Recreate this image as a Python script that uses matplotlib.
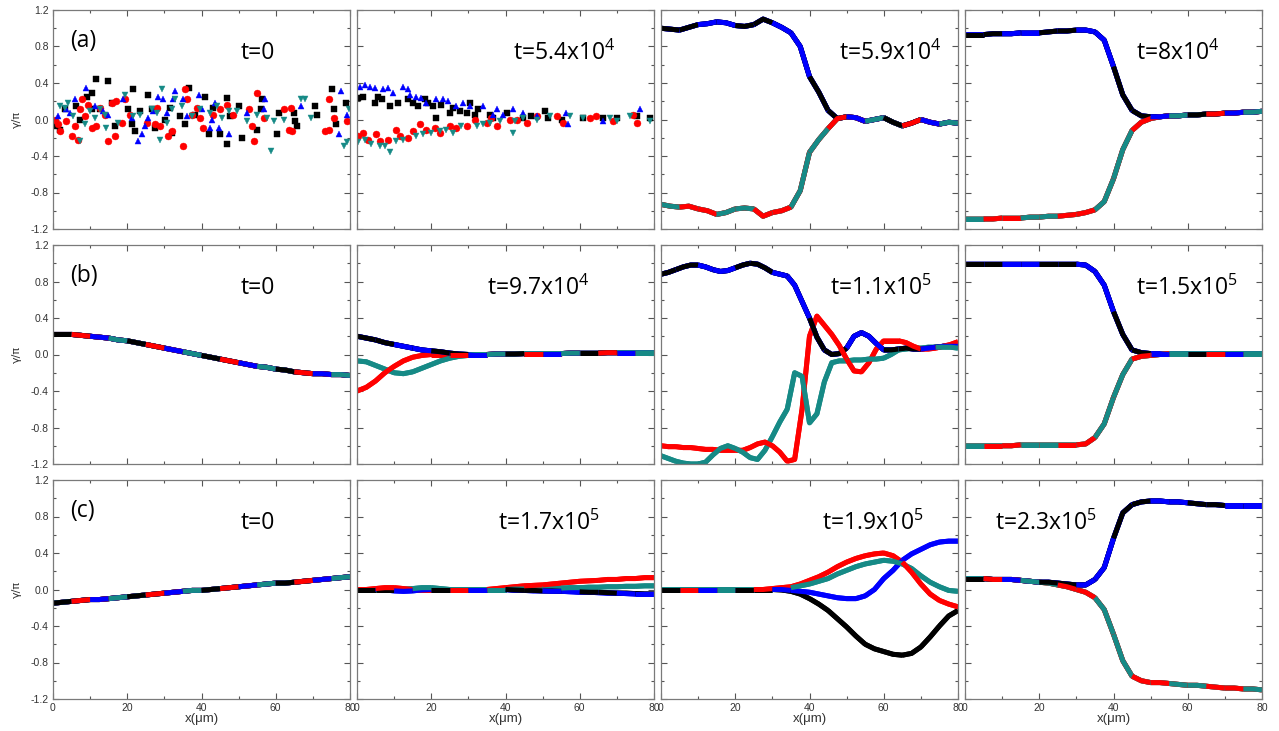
import numpy as np
import matplotlib
matplotlib.use("Agg")
import matplotlib.pyplot as plt
from matplotlib.ticker import MultipleLocator, FormatStrFormatter

plt.rcParams['mathtext.fontset'] = 'custom'
plt.rcParams['mathtext.rm'] = 'Open Sans'

BLACK, RED, BLUE, TEAL = '#000000', '#ff0000', '#0000ff', '#168a86'
COLORS = [BLACK, RED, BLUE, TEAL]
LW = 3.6

# ---------------- data ----------------
x25 = np.arange(0, 80.1, 2.5)   # 33 pts
x2 = np.arange(0, 80.1, 2.0)    # 41 pts

# (a) t=0 : scattered initial phases
a1_black_x = [0.9, 1.8, 3.2, 6.3, 7.2, 9.2, 10.4, 10.4, 11.7, 12.6, 14.9, 15.8, 16.7, 20.3, 21.2, 21.6, 22.1, 23.4,
              25.7, 26.6, 27.5, 30.2, 31.5, 32.0, 34.2, 35.6, 36.5, 38.3, 41.0, 41.9, 43.2, 45.0, 46.8, 46.8, 47.7,
              50.0, 50.9, 55.0, 55.9, 56.3, 60.4, 60.8, 64.9, 65.3, 65.8, 70.7, 71.2, 75.2, 75.7, 76.1, 78.8]
a1_black_y = [-0.07, -0.11, 0.11, 0.15, 0.0, 0.25, 0.29, 0.11, 0.44, 0.11, 0.42, 0.18, -0.07, 0.11, -0.05, 0.33,
              -0.13, 0.09, 0.27, 0.11, -0.09, 0.0, 0.13, -0.15, 0.04, -0.05, 0.35, 0.05, 0.25, -0.16, 0.13, -0.16,
              -0.27, 0.24, 0.04, 0.15, -0.2, -0.11, 0.11, 0.22, -0.16, 0.07, 0.07, -0.02, -0.07, 0.15, 0.05, 0.33,
              0.11, -0.05, 0.18]
a1_red_x = [0.5, 1.4, 1.8, 3.6, 5.0, 5.9, 6.8, 7.2, 7.7, 8.6, 9.5, 10.4, 11.7, 12.6, 14.0, 14.9, 15.8, 16.7, 17.1,
            18.5, 19.4, 20.7, 25.2, 27.5, 27.9, 28.8, 31.1, 32.0, 35.1, 35.6, 36.0, 37.4, 38.7, 39.6, 40.5, 43.2,
            45.0, 46.8, 48.6, 52.7, 53.6, 54.1, 55.0, 56.8, 62.2, 63.5, 64.0, 64.4, 73.4, 74.3, 74.3, 75.7, 79.3]
a1_red_y = [0.0, -0.05, -0.13, -0.02, -0.18, -0.07, -0.22, 0.11, 0.22, 0.04, 0.16, -0.09, -0.07, 0.13, 0.05, -0.24,
            0.18, -0.18, 0.2, -0.04, 0.22, 0.05, -0.04, -0.05, 0.13, -0.07, -0.18, -0.13, -0.29, 0.33, 0.22, 0.05,
            0.13, 0.02, -0.09, 0.05, 0.11, 0.16, 0.05, 0.11, -0.07, -0.24, 0.29, 0.02, 0.11, -0.11, 0.13, -0.13,
            -0.13, -0.11, 0.22, 0.02, -0.02]
a1_blue_x = [1.4, 3.6, 4.5, 5.9, 9.0, 11.3, 13.5, 14.9, 18.9, 21.2, 23.0, 23.9, 24.8, 25.7, 27.0, 28.4, 29.7, 30.6,
             32.4, 32.9, 35.1, 36.0, 39.2, 40.1, 42.3, 42.8, 43.7, 44.6, 47.3, 52.3, 56.8, 57.2, 66.7, 77.0, 77.5, 79.3]
a1_blue_y = [0.04, 0.11, 0.07, 0.22, 0.35, 0.15, 0.09, 0.05, 0.22, 0.02, -0.24, -0.16, -0.07, 0.02, 0.09, 0.25, 0.22,
             0.07, 0.22, 0.31, 0.22, 0.04, 0.27, 0.11, -0.09, 0.0, 0.18, -0.09, -0.16, 0.07, 0.11, 0.22, 0.15,
             -0.16, 0.31, 0.05]
a1_teal_x = [1.8, 3.2, 4.1, 5.4, 7.2, 8.6, 9.9, 11.3, 12.6, 14.0, 14.4, 17.6, 19.4, 21.6, 23.4, 26.6, 27.9, 28.8, 29.3,
             30.6, 32.0, 32.9, 34.7, 37.4, 39.6, 42.3, 44.1, 45.5, 47.3, 49.5, 52.3, 55.0, 57.7, 58.6, 59.5, 62.2,
             66.7, 68.0, 69.4, 78.4, 79.3, 79.7]
a1_teal_y = [0.15, 0.13, 0.18, 0.04, -0.24, -0.05, 0.09, 0.02, 0.11, 0.05, -0.09, -0.04, 0.27, 0.04, 0.05, 0.11, 0.07,
             -0.22, 0.33, -0.04, 0.11, 0.22, 0.15, 0.04, 0.11, 0.07, 0.15, 0.02, 0.09, 0.09, -0.02, 0.05, 0.02,
             -0.35, -0.02, 0.0, 0.22, 0.22, 0.02, -0.29, -0.25, 0.11]

# (a) t=5.4x10^4
a2_black_x = [0.3, 1.6, 4.8, 5.7, 6.6, 8.8, 11.1, 13.8, 15.1, 16.5, 18.2, 19.1, 20.5, 21.4, 22.7, 25.0, 25.9, 27.7,
              29.5, 30.4, 31.7, 32.6, 35.8, 36.7, 40.3, 44.8, 47.0, 50.6, 51.5, 55.1, 60.9, 66.3, 69.9, 75.3, 78.9]
a2_black_y = [0.24, 0.25, 0.18, 0.25, 0.22, 0.15, 0.18, 0.22, 0.18, 0.15, 0.22, 0.18, 0.15, 0.02, 0.16, 0.07, 0.13,
              0.09, 0.07, 0.18, 0.05, 0.11, 0.05, 0.02, 0.07, 0.02, 0.04, 0.09, 0.02, 0.0, 0.02, 0.02, 0.02, 0.04, 0.02]
a2_red_x = [0.3, 1.6, 3.0, 5.2, 6.1, 8.4, 10.6, 11.5, 13.8, 15.1, 16.9, 18.7, 20.9, 22.3, 25.0, 26.8, 29.5, 31.7,
            34.9, 36.2, 37.6, 41.2, 43.0, 45.7, 48.4, 53.8, 55.6, 62.7, 64.5, 69.0, 74.4, 75.3]
a2_red_y = [-0.18, -0.15, -0.22, -0.16, -0.24, -0.22, -0.11, -0.18, -0.2, -0.13, -0.05, -0.11, -0.09, -0.15, -0.07,
            -0.09, -0.07, 0.0, -0.04, 0.02, -0.07, 0.0, 0.0, -0.04, 0.04, 0.04, -0.04, 0.02, 0.04, -0.02, 0.05, -0.04]
a2_blue_x = [0.7, 2.1, 3.4, 4.8, 7.0, 8.4, 9.7, 12.4, 13.8, 14.2, 16.0, 17.3, 18.7, 21.4, 23.2, 24.5, 26.8, 28.6,
             30.4, 34.0, 36.7, 37.6, 39.4, 42.1, 44.8, 48.4, 56.4, 56.9, 66.3, 76.2]
a2_blue_y = [0.36, 0.38, 0.36, 0.35, 0.33, 0.35, 0.29, 0.36, 0.33, 0.27, 0.25, 0.24, 0.18, 0.22, 0.22, 0.2, 0.15,
             0.18, 0.15, 0.15, 0.05, 0.11, 0.05, 0.11, 0.07, 0.04, 0.07, -0.05, -0.02, 0.11]
a2_teal_x = [0.3, 2.1, 3.9, 6.1, 7.5, 8.8, 10.6, 12.4, 16.0, 17.8, 20.0, 22.3, 24.1, 25.9, 28.1, 32.2, 34.0, 35.8,
             38.5, 42.1, 42.5, 44.8, 48.4, 52.0, 57.3, 60.9, 68.1, 69.9, 73.5, 78.9]
a2_teal_y = [-0.25, -0.22, -0.27, -0.29, -0.29, -0.36, -0.24, -0.22, -0.18, -0.16, -0.15, -0.13, -0.11, -0.15, -0.07,
             -0.07, -0.05, -0.04, -0.02, -0.15, -0.02, 0.02, 0.0, 0.04, 0.04, 0.02, 0.02, -0.02, 0.04, -0.02]

# (a) t=5.9x10^4 (on x25)
a3_upper = [1.00, 0.99, 0.98, 1.01, 1.04, 1.05, 1.07, 1.06, 1.03, 1.02, 1.04, 1.10, 1.06, 1.01, 0.95, 0.80, 0.47,
            0.30, 0.10, 0.01, 0.03, 0.02, -0.02, 0.00, 0.02, -0.03, -0.07, -0.04, 0.00, -0.03, -0.05, -0.03, -0.04]
a3_lower = [-0.93, -0.95, -0.96, -0.95, -0.98, -1.00, -1.04, -1.02, -0.98, -0.97, -0.98, -1.06, -1.02, -1.00, -0.96,
            -0.78, -0.36, -0.22, -0.10, 0.01, 0.03, 0.02, -0.02, 0.00, 0.02, -0.03, -0.07, -0.04, 0.00, -0.03, -0.05,
            -0.03, -0.04]

# (a) t=8x10^4
a4_upper = [0.93, 0.93, 0.93, 0.94, 0.94, 0.94, 0.95, 0.95, 0.95, 0.96, 0.97, 0.97, 0.98, 0.98, 0.96, 0.87, 0.58,
            0.27, 0.10, 0.04, 0.03, 0.03, 0.04, 0.04, 0.05, 0.05, 0.06, 0.06, 0.07, 0.07, 0.08, 0.08, 0.09]
a4_lower = [-1.09, -1.09, -1.09, -1.09, -1.08, -1.08, -1.08, -1.07, -1.07, -1.06, -1.06, -1.05, -1.04, -1.02, -0.99,
            -0.90, -0.65, -0.33, -0.12, -0.03, 0.01, 0.03, 0.04, 0.04, 0.05, 0.05, 0.06, 0.06, 0.07, 0.07, 0.08,
            0.08, 0.09]

# (b) t=0
b1_all = [0.22, 0.22, 0.22, 0.21, 0.20, 0.19, 0.18, 0.16, 0.15, 0.13, 0.11, 0.09, 0.07, 0.05, 0.03, 0.01, -0.01,
          -0.03, -0.05, -0.07, -0.09, -0.11, -0.13, -0.14, -0.16, -0.17, -0.19, -0.20, -0.21, -0.21, -0.22, -0.22, -0.23]

# (b) t=9.7x10^4
b2_upper = [0.20, 0.18, 0.16, 0.13, 0.11, 0.09, 0.07, 0.05, 0.04, 0.03, 0.015, 0.005, 0.0, 0.0, 0.0, 0.005, 0.005,
            0.005, 0.01, 0.01, 0.01, 0.01, 0.01, 0.015, 0.015, 0.015, 0.015, 0.02, 0.02, 0.02, 0.02, 0.02, 0.02]
b2_red = [-0.40, -0.36, -0.29, -0.20, -0.13, -0.07, -0.03, -0.01, 0.0, 0.0, 0.0, 0.0, 0.0, 0.0, 0.0, 0.005, 0.005,
          0.005, 0.01, 0.01, 0.01, 0.01, 0.01, 0.015, 0.015, 0.015, 0.015, 0.02, 0.02, 0.02, 0.02, 0.02, 0.02]
b2_teal = [-0.07, -0.08, -0.12, -0.16, -0.20, -0.21, -0.19, -0.15, -0.11, -0.07, -0.04, -0.02, -0.01, 0.0, 0.0,
           0.005, 0.005, 0.005, 0.01, 0.01, 0.01, 0.01, 0.01, 0.015, 0.015, 0.015, 0.015, 0.02, 0.02, 0.02, 0.02,
           0.02, 0.02]

# (b) t=1.1x10^5 (on x2)
b3_upper = [0.88, 0.90, 0.93, 0.96, 0.98, 0.98, 0.96, 0.93, 0.91, 0.92, 0.95, 0.98, 1.00, 0.99, 0.95, 0.90, 0.88,
            0.86, 0.76, 0.58, 0.40, 0.19, 0.05, 0.00, 0.01, 0.07, 0.20, 0.24, 0.20, 0.12, 0.05, 0.05, 0.06, 0.07,
            0.06, 0.06, 0.07, 0.08, 0.09, 0.09, 0.09]
b3_red = [-1.00, -1.01, -1.01, -1.02, -1.02, -1.03, -1.04, -1.04, -1.05, -1.05, -1.05, -1.05, -1.02, -0.98, -0.96,
          -1.00, -1.07, -1.17, -1.15, -0.60, 0.20, 0.42, 0.32, 0.22, 0.10, -0.05, -0.18, -0.19, -0.09, 0.06, 0.15,
          0.15, 0.15, 0.13, 0.09, 0.06, 0.06, 0.07, 0.09, 0.11, 0.14]
b3_teal = [-1.11, -1.14, -1.17, -1.19, -1.20, -1.20, -1.18, -1.10, -1.03, -1.00, -1.03, -1.07, -1.13, -1.15, -1.05,
           -0.90, -0.74, -0.60, -0.20, -0.24, -0.75, -0.65, -0.30, -0.09, -0.07, -0.07, -0.06, -0.06, -0.05, -0.05,
           -0.04, 0.00, 0.05, 0.06, 0.07, 0.07, 0.08, 0.08, 0.08, 0.08, 0.07]

# (b) t=1.5x10^5
b4_upper = [0.99] * 13 + [0.98, 0.91, 0.76, 0.47, 0.22, 0.05, 0.02] + [0.01] * 13
b4_lower = [-1.0] * 6 + [-0.99] * 7 + [-0.98, -0.91, -0.76, -0.47, -0.22, -0.05, -0.02, -0.01, 0.0] + [0.01] * 11

# (c) t=0
c1_all = [-0.15, -0.14, -0.13, -0.12, -0.11, -0.11, -0.10, -0.09, -0.08, -0.07, -0.06, -0.05, -0.04, -0.03, -0.02,
          -0.01, -0.01, 0.00, 0.01, 0.02, 0.03, 0.04, 0.05, 0.06, 0.07, 0.07, 0.08, 0.09, 0.10, 0.11, 0.12, 0.13, 0.14]

# (c) t=1.7x10^5
c2_black = [0.0] * 17 + [-0.005, -0.01, -0.01, -0.015, -0.015, -0.02, -0.02, -0.025, -0.03, -0.03, -0.035, -0.04,
                         -0.04, -0.045, -0.05, -0.05]
c2_red = [0.0, 0.0, 0.01, 0.02, 0.02, 0.01, 0.0, 0.0, 0.0, 0.0, 0.0, 0.0, 0.0, 0.0, 0.0, 0.01, 0.02, 0.03, 0.04,
          0.045, 0.05, 0.06, 0.07, 0.08, 0.09, 0.095, 0.10, 0.11, 0.11, 0.12, 0.12, 0.13, 0.13]
c2_blue = [0.0, 0.0, 0.0, -0.005, -0.015, -0.02, -0.015, -0.005, 0.0, 0.0, 0.0, 0.0, 0.0, 0.0, 0.0, 0.0, 0.0, -0.01,
           -0.01, -0.015, -0.015, -0.02, -0.02, -0.025, -0.03, -0.03, -0.035, -0.04, -0.04, -0.045, -0.05, -0.05,
           -0.05]
c2_teal = [0.0, 0.0, 0.0, 0.0, 0.0, 0.0, 0.01, 0.02, 0.02, 0.01, 0.0, 0.0, 0.0, 0.0, 0.0, 0.0, 0.0, 0.005, 0.005,
           0.01, 0.01, 0.015, 0.015, 0.02, 0.02, 0.025, 0.025, 0.03, 0.03, 0.035, 0.035, 0.04, 0.04]

# (c) t=1.9x10^5
c3_black = [0.0] * 13 + [-0.005, -0.02, -0.05, -0.10, -0.16, -0.23, -0.32, -0.41, -0.51, -0.60, -0.65, -0.68,
                         -0.71, -0.72, -0.70, -0.63, -0.52, -0.40, -0.29, -0.23]
c3_red = [0.0] * 12 + [0.01, 0.02, 0.03, 0.06, 0.10, 0.14, 0.19, 0.25, 0.30, 0.34, 0.37, 0.39, 0.40, 0.37, 0.30,
                       0.19, 0.06, -0.05, -0.12, -0.16, -0.19]
c3_blue = [0.0] * 13 + [0.0, -0.01, -0.02, -0.03, -0.05, -0.07, -0.09, -0.10, -0.10, -0.07, 0.0, 0.12, 0.21, 0.32,
                        0.39, 0.44, 0.49, 0.52, 0.53, 0.53]
c3_teal = [0.0] * 13 + [0.01, 0.02, 0.04, 0.06, 0.09, 0.12, 0.17, 0.21, 0.25, 0.28, 0.30, 0.32, 0.31, 0.28, 0.23,
                        0.15, 0.08, 0.03, -0.01, -0.02]

# (c) t=2.3x10^5
c4_upper = [0.12, 0.12, 0.12, 0.11, 0.11, 0.11, 0.10, 0.09, 0.08, 0.08, 0.07, 0.06, 0.05, 0.05, 0.11, 0.24, 0.56,
            0.84, 0.93, 0.96, 0.97, 0.97, 0.96, 0.96, 0.95, 0.94, 0.93, 0.93, 0.92, 0.92, 0.92, 0.92, 0.92]
c4_lower = [0.12, 0.12, 0.12, 0.11, 0.11, 0.11, 0.10, 0.09, 0.08, 0.07, 0.05, 0.03, 0.0, -0.03, -0.09, -0.22, -0.49,
            -0.78, -0.95, -1.00, -1.02, -1.02, -1.03, -1.04, -1.05, -1.05, -1.06, -1.07, -1.08, -1.08, -1.09, -1.09,
            -1.10]

labels = [["t=0", "t=5.4x10$\\mathregular{^4}$", "t=5.9x10$\\mathregular{^4}$", "t=8x10$\\mathregular{^4}$"],
          ["t=0", "t=9.7x10$\\mathregular{^4}$", "t=1.1x10$\\mathregular{^5}$", "t=1.5x10$\\mathregular{^5}$"],
          ["t=0", "t=1.7x10$\\mathregular{^5}$", "t=1.9x10$\\mathregular{^5}$", "t=2.3x10$\\mathregular{^5}$"]]
label_x = [[50.5, 42, 48, 46], [50.5, 35, 45.5, 46], [50.5, 38, 43.5, 8]]
row_tags = ["(a)", "(b)", "(c)"]


def draw_lines(ax, x, series):
    # every 5 um a different series is drawn last, the others under it in turn
    x = np.asarray(x, dtype=float)
    ys = [np.asarray(y, dtype=float) for y in series]
    for y, c in zip(ys, COLORS):
        ax.plot(x, y, color=c, lw=LW, solid_capstyle='butt')
    mid = (x[:-1] + x[1:]) / 2
    chunk = (mid // 5).astype(int)
    for ch in np.unique(chunk):
        idx = np.where(chunk == ch)[0]
        i0, i1 = idx[0], idx[-1] + 1
        top = ch % 4
        order = [(top + 1 + m) % 4 for m in range(4)]
        for k in order:
            ax.plot(x[i0:i1 + 1], ys[k][i0:i1 + 1], color=COLORS[k], lw=LW, solid_capstyle='butt')


def draw_scatter(ax, data):
    marks = ['s', 'o', '^', 'v']
    for (xs, ys), c, m in zip(data, COLORS, marks):
        ax.plot(xs, ys, m, color=c, ms=5, mec=c, mew=0.3, ls='none')


W, H = 1279, 731
fig = plt.figure(figsize=(W / 100, H / 100), dpi=100)
lefts = [53, 357, 661, 965]
tops = [10, 245, 480]
pw, ph = 297, 219

axes = [[None] * 4 for _ in range(3)]
for r in range(3):
    for c in range(4):
        ax = fig.add_axes([lefts[c] / W, 1 - (tops[r] + ph) / H, pw / W, ph / H])
        axes[r][c] = ax
        ax.set_xlim(0, 80)
        ax.set_ylim(-1.2, 1.2)
        ax.xaxis.set_major_locator(MultipleLocator(20))
        ax.xaxis.set_minor_locator(MultipleLocator(10))
        ax.yaxis.set_major_locator(MultipleLocator(0.4))
        ax.yaxis.set_minor_locator(MultipleLocator(0.2))
        ax.yaxis.set_major_formatter(FormatStrFormatter('%.1f'))
        ax.tick_params(which='both', direction='in', top=True, right=True, color='#555555',
                       labelsize=7.5, labelcolor='#333333', pad=3)
        ax.tick_params(which='major', length=4, width=0.8)
        ax.tick_params(which='minor', length=2.5, width=0.8)
        for s in ax.spines.values():
            s.set_color('#7a7a7a')
            s.set_linewidth(0.9)
        for lab in ax.get_xticklabels() + ax.get_yticklabels():
            lab.set_family('Liberation Sans')
        if c > 0:
            ax.tick_params(labelleft=False)
        else:
            ax.set_ylabel('γ/π', fontsize=8, color='#333333', family='DejaVu Sans', labelpad=6)
        if r < 2:
            ax.tick_params(labelbottom=False)
        else:
            ax.set_xlabel('x(μm)', fontsize=9.5, color='#333333', labelpad=0, family='Liberation Sans')
        ax.text(label_x[r][c], 0.73, labels[r][c], fontsize=16.5, family='Open Sans',
                ha='left', va='center', zorder=5)
    axes[r][0].text(4.5, 0.86, row_tags[r], fontsize=16.5, family='Open Sans', ha='left', va='center')

draw_scatter(axes[0][0], [(a1_black_x, a1_black_y), (a1_red_x, a1_red_y),
                          (a1_blue_x, a1_blue_y), (a1_teal_x, a1_teal_y)])
draw_scatter(axes[0][1], [(a2_black_x, a2_black_y), (a2_red_x, a2_red_y),
                          (a2_blue_x, a2_blue_y), (a2_teal_x, a2_teal_y)])
draw_lines(axes[0][2], x25, [a3_upper, a3_lower, a3_upper, a3_lower])
draw_lines(axes[0][3], x25, [a4_upper, a4_lower, a4_upper, a4_lower])
draw_lines(axes[1][0], x25, [b1_all, b1_all, b1_all, b1_all])
draw_lines(axes[1][1], x25, [b2_upper, b2_red, b2_upper, b2_teal])
draw_lines(axes[1][2], x2, [b3_upper, b3_red, b3_upper, b3_teal])
draw_lines(axes[1][3], x25, [b4_upper, b4_lower, b4_upper, b4_lower])
draw_lines(axes[2][0], x25, [c1_all, c1_all, c1_all, c1_all])
draw_lines(axes[2][1], x25, [c2_black, c2_red, c2_blue, c2_teal])
draw_lines(axes[2][2], x25, [c3_black, c3_red, c3_blue, c3_teal])
draw_lines(axes[2][3], x25, [c4_upper, c4_lower, c4_upper, c4_lower])

# last x label ("80") sits against the right edge so it does not run into the next "0"
fig.canvas.draw()
for ax in axes[2]:
    labs = ax.get_xticklabels()
    labs[-1].set_horizontalalignment('right')
    labs[-1].set_x(80.8)

fig.savefig('out.png', dpi=100)
